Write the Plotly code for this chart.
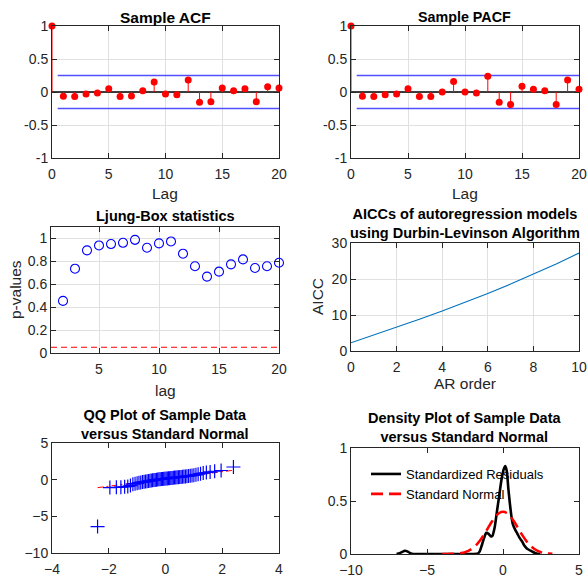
import plotly.graph_objects as go
import numpy as np

W, H = 587, 578

# ---------------- data ----------------
lags = list(range(0, 21))
acf_vals = [1.0, -0.066, -0.07, -0.03, -0.015, 0.05, -0.07, -0.06, 0.02, 0.15, -0.03,
            -0.04, 0.18, -0.157, -0.146, 0.06, 0.02, 0.05, -0.146, 0.08, 0.06]
pacf_vals = [1.0, -0.066, -0.07, -0.04, -0.03, 0.05, -0.07, -0.07, 0.0, 0.16, 0.0,
             -0.015, 0.237, -0.157, -0.19, 0.086, 0.04, 0.02, -0.19, 0.18, 0.04]
conf_bound = 0.25

lb_lags = list(range(2, 21))
lb_pvals = [0.455, 0.736, 0.896, 0.939, 0.951, 0.962, 0.988, 0.919, 0.957, 0.974,
            0.867, 0.757, 0.667, 0.71, 0.774, 0.817, 0.742, 0.757, 0.788]
lb_alpha = 0.05

ar_orders = list(range(0, 11))
aicc_vals = [2.3, 4.4, 6.6, 8.8, 11.1, 13.5, 16.0, 18.6, 21.3, 24.2, 27.2]

qq_theoretical = [-2.394, -1.960, -1.732, -1.572, -1.440, -1.329, -1.235, -1.150, -1.073, -1.001,
                  -0.935, -0.872, -0.812, -0.755, -0.701, -0.649, -0.598, -0.549, -0.501, -0.454,
                  -0.408, -0.363, -0.319, -0.275, -0.232, -0.189, -0.147, -0.105, -0.063, -0.021,
                  0.021, 0.063, 0.105, 0.147, 0.189, 0.232, 0.275, 0.319, 0.363, 0.408,
                  0.454, 0.501, 0.549, 0.598, 0.649, 0.701, 0.755, 0.812, 0.872, 0.935,
                  1.001, 1.073, 1.150, 1.235, 1.329, 1.440, 1.572, 1.732, 1.960, 2.394]
qq_sample = [-6.40, -1.08, -1.05, -1.02, -0.98, -0.92, -0.80, -0.62, -0.55, -0.50,
             -0.42, -0.38, -0.33, -0.30, -0.26, -0.22, -0.19, -0.15, -0.12, -0.09,
             -0.06, -0.03, 0.00, 0.02, 0.04, 0.06, 0.08, 0.10, 0.11, 0.13,
             0.15, 0.17, 0.18, 0.20, 0.22, 0.24, 0.26, 0.28, 0.30, 0.32,
             0.34, 0.36, 0.38, 0.40, 0.42, 0.44, 0.47, 0.50, 0.53, 0.57,
             0.61, 0.66, 0.74, 0.82, 0.90, 0.98, 1.05, 1.15, 1.25, 1.73]

dens_x = [-7.0, -6.8, -6.6, -6.45, -6.3, -6.1, -5.9, -5.0, -4.0, -3.0, -2.0, -1.7, -1.55,
          -1.4, -1.25, -1.1, -0.95, -0.8, -0.7, -0.55, -0.4, -0.25, -0.1, 0.05, 0.15,
          0.25, 0.35, 0.45, 0.55, 0.65, 0.8, 0.95, 1.1, 1.25, 1.4, 1.55, 1.7, 1.9, 2.1,
          2.3, 2.45]
dens_y = [0.0, 0.008, 0.022, 0.03, 0.025, 0.008, 0.0, 0.0, 0.0, 0.0, 0.0, 0.002, 0.02,
          0.08, 0.15, 0.2, 0.19, 0.165, 0.17, 0.25, 0.4, 0.55, 0.7, 0.8, 0.83,
          0.78, 0.62, 0.48, 0.36, 0.28, 0.23, 0.19, 0.15, 0.12, 0.08, 0.055, 0.04, 0.025, 0.01,
          0.002, 0.0]

norm_x = [-4.0, -3.75, -3.5, -3.25, -3.0, -2.75, -2.5, -2.25, -2.0, -1.75, -1.5, -1.25,
          -1.0, -0.75, -0.5, -0.25, 0.0, 0.25, 0.5, 0.75, 1.0, 1.25, 1.5, 1.75, 2.0,
          2.25, 2.5, 2.75, 3.0, 3.25]
norm_y = [0.0001, 0.0004, 0.0009, 0.002, 0.0044, 0.0091, 0.0175, 0.0317, 0.054, 0.0863,
          0.1295, 0.1826, 0.242, 0.3011, 0.3521, 0.3867, 0.3989, 0.3867, 0.3521, 0.3011,
          0.242, 0.1826, 0.1295, 0.0863, 0.054, 0.0317, 0.0175, 0.0091, 0.0044, 0.002]

# ---------------- helpers ----------------
FONT = "Liberation Sans, Arial, Helvetica, sans-serif"
AX = "#262626"
GRID = "#e0e0e0"


def px_x(p):
    return p / W


def px_y(p):
    return 1 - p / H


def axis(dom, rng, tickvals, grid, anchor, ticktext=None):
    d = dict(domain=dom, range=rng, tickvals=tickvals, showline=True, linecolor=AX,
             linewidth=1, mirror="ticks", ticks="inside", ticklen=5, tickcolor=AX,
             tickfont=dict(family=FONT, size=14, color=AX), zeroline=False,
             showgrid=grid, gridcolor=GRID, gridwidth=1, anchor=anchor,
             automargin=False)
    if ticktext is not None:
        d["ticktext"] = ticktext
    return d


def stems(xs, ys):
    sx, sy = [], []
    for x, y in zip(xs, ys):
        sx += [x, x, None]
        sy += [0, y, None]
    return sx, sy


fig = go.Figure()

# boxes (pixel)
boxes = {
    1: (52, 279, 26, 158),
    2: (351, 579, 26, 158),
    3: (51, 279, 227, 353),
    4: (351, 579, 243, 351),
    5: (52, 279, 443, 553),
    6: (351, 579, 448, 554),
}


def dom(i):
    l, r, t, b = boxes[i]
    return [px_x(l), px_x(r)], [px_y(b), px_y(t)]


# ----- ACF & PACF -----
for i, vals in ((1, acf_vals), (2, pacf_vals)):
    xa = "x" if i == 1 else f"x{i}"
    ya = "y" if i == 1 else f"y{i}"
    sx, sy = stems(lags, vals)
    fig.add_trace(go.Scatter(x=[0, lags[-1]], y=[0, 0], mode="lines",
                             line=dict(color="black", width=1.3), xaxis=xa, yaxis=ya,
                             showlegend=False, hoverinfo="skip"))
    fig.add_trace(go.Scatter(x=[0.5, lags[-1]], y=[conf_bound, conf_bound], mode="lines",
                             line=dict(color="#5050ff", width=1.5), xaxis=xa, yaxis=ya,
                             showlegend=False))
    fig.add_trace(go.Scatter(x=[0.5, lags[-1]], y=[-conf_bound, -conf_bound], mode="lines",
                             line=dict(color="#5050ff", width=1.5), xaxis=xa, yaxis=ya,
                             showlegend=False))
    fig.add_trace(go.Scatter(x=sx, y=sy, mode="lines", line=dict(color="red", width=1),
                             xaxis=xa, yaxis=ya, showlegend=False))
    fig.add_trace(go.Scatter(x=lags, y=vals, mode="markers",
                             marker=dict(color="red", size=7, line=dict(width=0)),
                             xaxis=xa, yaxis=ya, showlegend=False, cliponaxis=False))

# ----- Ljung-Box -----
fig.add_trace(go.Scatter(x=[1, 20], y=[lb_alpha, lb_alpha], mode="lines",
                         line=dict(color="red", width=1, dash="6px,4px"),
                         xaxis="x3", yaxis="y3", showlegend=False))
fig.add_trace(go.Scatter(x=lb_lags, y=lb_pvals, mode="markers",
                         marker=dict(symbol="circle-open", color="blue", size=9,
                                     line=dict(width=1.1, color="blue")),
                         xaxis="x3", yaxis="y3", showlegend=False, cliponaxis=False))

# ----- AICC -----
fig.add_trace(go.Scatter(x=ar_orders, y=aicc_vals, mode="lines",
                         line=dict(color="#0072BD", width=1.1),
                         xaxis="x4", yaxis="y4", showlegend=False))

# ----- QQ -----
qx = np.array(qq_theoretical)
qy = np.array(qq_sample)
x1, x3 = np.percentile(qx, [25, 75])
y1, y3 = np.percentile(qy, [25, 75])
slope = (y3 - y1) / (x3 - x1)


def line_y(x):
    return y1 + slope * (x - x1)


xmin, xmax = qx.min(), qx.max()
fig.add_trace(go.Scatter(x=[xmin, x1, None, x3, xmax],
                         y=[line_y(xmin), line_y(x1), None, line_y(x3), line_y(xmax)],
                         mode="lines", line=dict(color="red", width=1, dash="6px,3px,2px,3px"),
                         xaxis="x5", yaxis="y5", showlegend=False))
fig.add_trace(go.Scatter(x=[x1, x3], y=[line_y(x1), line_y(x3)], mode="lines",
                         line=dict(color="red", width=1), xaxis="x5", yaxis="y5",
                         showlegend=False))
fig.add_trace(go.Scatter(x=qq_theoretical, y=qq_sample, mode="markers",
                         marker=dict(symbol="cross-thin-open", size=10, color="blue",
                                     line=dict(width=1.2, color="blue")),
                         xaxis="x5", yaxis="y5", showlegend=False))

# ----- Density -----
fig.add_trace(go.Scatter(x=dens_x, y=dens_y, mode="lines", name="Standardized Residuals",
                         line=dict(color="black", width=2.6, shape="spline", smoothing=0.6),
                         xaxis="x6", yaxis="y6", showlegend=True))
fig.add_trace(go.Scatter(x=norm_x, y=norm_y, mode="lines", name="Standard Normal",
                         line=dict(color="red", width=2.6, dash="12px,6px", shape="spline"),
                         xaxis="x6", yaxis="y6", showlegend=True))

# ---------------- layout ----------------
layout = dict(width=W, height=H,
              margin=dict(l=0, r=0, t=0, b=0, pad=0, autoexpand=False),
              paper_bgcolor="white", plot_bgcolor="white",
              font=dict(family=FONT, color=AX))

specs = {
    1: ([0, 20], [-1, 1], [0, 5, 10, 15, 20], [-1, -0.5, 0, 0.5, 1], True,
        None, ["-1", "-0.5", "0", "0.5", "1"]),
    2: ([0, 20], [-1, 1], [0, 5, 10, 15, 20], [-1, -0.5, 0, 0.5, 1], True,
        None, ["-1", "-0.5", "0", "0.5", "1"]),
    3: ([1, 20], [0, 1.1], [5, 10, 15, 20], [0, 0.2, 0.4, 0.6, 0.8, 1], True,
        None, ["0", "0.2", "0.4", "0.6", "0.8", "1"]),
    4: ([0, 10], [0, 30], [0, 2, 4, 6, 8, 10], [0, 10, 20, 30], True, None, None),
    5: ([-4, 4], [-10, 5], [-4, -2, 0, 2, 4], [-10, -5, 0, 5], False, None, None),
    6: ([-10, 5], [0, 1], [-10, -5, 0, 5], [0, 0.5, 1], False, None,
        ["0", "0.5", "1"]),
}
for i, (xr, yr, xt, yt, grid, xtt, ytt) in specs.items():
    xd, yd = dom(i)
    sfx = "" if i == 1 else str(i)
    xa = axis(xd, xr, xt, grid, f"y{sfx}", xtt)
    xa["ticklabelstandoff"] = 3
    layout[f"xaxis{sfx}"] = xa
    layout[f"yaxis{sfx}"] = axis(yd, yr, yt, grid, f"x{sfx}", ytt)

layout["legend"] = dict(x=px_x(366), y=px_y(459), xanchor="left", yanchor="top",
                        bgcolor="rgba(0,0,0,0)", borderwidth=0,
                        font=dict(family=FONT, size=13, color="black"),
                        tracegroupgap=0, itemwidth=30)

ann = []


def text(x, y, s, size, bold=False, angle=0, color="black"):
    ann.append(dict(x=px_x(x), y=px_y(y), xref="paper", yref="paper", text=s,
                    showarrow=False, xanchor="center", yanchor="middle", textangle=angle,
                    font=dict(family=FONT, size=size, color=color)))


# titles
text(165, 17, "<b>Sample ACF</b>", 15.5)
text(465, 17, "<b>Sample PACF</b>", 14.3)
text(165, 216, "<b>Ljung-Box statistics</b>", 14.5)
text(465, 223.5, "<b>AICCs of autoregression models</b><br><b>using Durbin-Levinson Algorithm</b>", 14.5)
text(165, 424, "<b>QQ Plot of Sample Data</b><br><b>versus Standard Normal</b>", 14.5)
text(465, 427.5, "<b>Density Plot of Sample Data</b><br><b>versus Standard Normal</b>", 14.5)
# axis labels
text(165, 193, "Lag", 15.5, color=AX)
text(465, 193, "Lag", 15.5, color=AX)
text(165, 390, "lag", 15.5, color=AX)
text(465, 383, "AR order", 15.5, color=AX)
text(15, 290, "p-values", 15.5, angle=-90, color=AX)
text(317, 297, "AICC", 15.5, angle=-90, color=AX)

layout["annotations"] = ann
fig.update_layout(**layout)
fig.write_html("out.html", config={"displayModeBar": False},
               post_script="document.body.style.margin='0';document.body.style.overflow='hidden';")
